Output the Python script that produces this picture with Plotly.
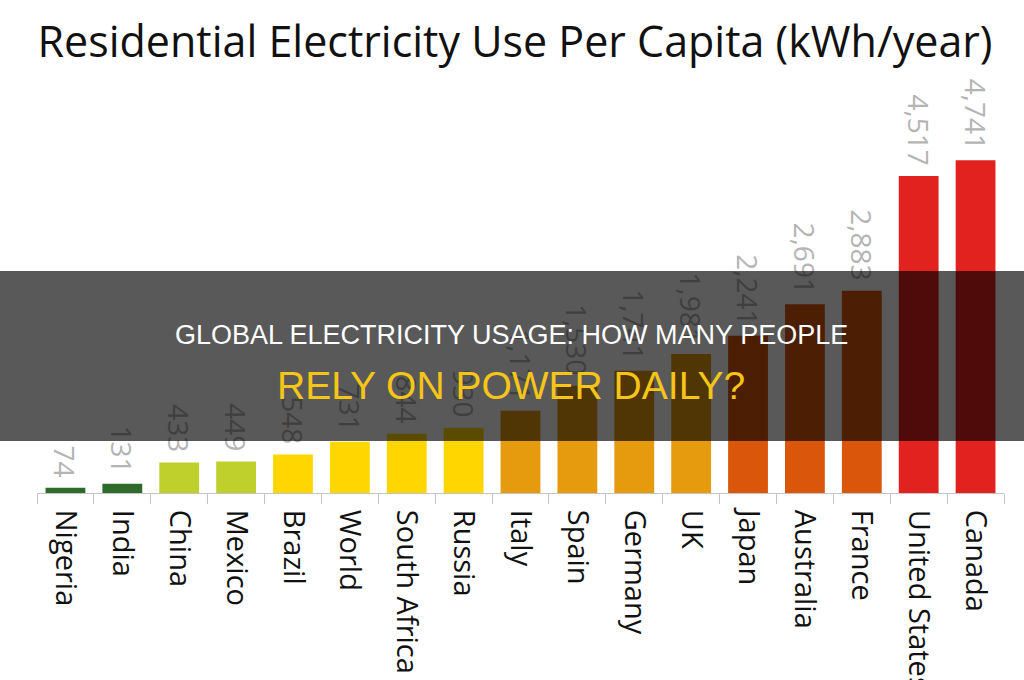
import plotly.graph_objects as go

countries = ["Nigeria", "India", "China", "Mexico", "Brazil", "World", "South Africa",
             "Russia", "Italy", "Spain", "Germany", "UK", "Japan", "Australia",
             "France", "United States", "Canada"]
values = [74, 131, 433, 449, 548, 731, 844, 930, 1171, 1530, 1741, 1981,
          2241, 2691, 2883, 4517, 4741]

c_green = "#2e6b2b"
c_lime = "#bfd02c"
c_yellow = "#ffd600"
c_orange = "#e69a0e"
c_dkorange = "#d9560b"
c_red = "#e1221f"
bar_colors = [c_green, c_green, c_lime, c_lime, c_yellow, c_yellow, c_yellow, c_yellow,
              c_orange, c_orange, c_orange, c_orange, c_dkorange, c_dkorange, c_dkorange,
              c_red, c_red]

labels = [f"{v:,}\u00a0" for v in values]

fig = go.Figure(go.Bar(
    x=countries, y=values, marker=dict(color=bar_colors, line=dict(width=0)),
    text=labels, textposition="outside", textangle=90, constraintext="none",
    cliponaxis=False,
    textfont=dict(family="Open Sans", size=28, color="#b4b4b4"),
    hoverinfo="skip",
))

L, R, T, B = 37, 20, 72, 187
W, H = 1024, 680
pw, ph = W - L - R, H - T - B

def px_x(x):
    return (x - L) / pw

def px_y(y):
    return (H - B - y) / ph

fig.update_layout(
    width=W, height=H,
    margin=dict(l=L, r=R, t=T, b=B, autoexpand=False),
    paper_bgcolor="white", plot_bgcolor="white",
    bargap=0.3, showlegend=False,
    title=dict(text="Residential Electricity Use Per Capita (kWh/year)",
               font=dict(family="Open Sans", size=43, color="#111111"),
               x=515 / W, xanchor="center", y=1 - 42 / H, yanchor="middle",
               xref="container", yref="container", automargin=False),
    xaxis=dict(showline=True, linecolor="#c4c4c4", linewidth=1,
               ticks="outside", tickson="boundaries", ticklen=10,
               tickcolor="#c4c4c4", tickangle=90, ticklabelstandoff=10,
               automargin=False,
               tickfont=dict(family="Open Sans", size=29, color="#111111"),
               showgrid=False),
    yaxis=dict(range=[0, 6000], visible=False, showgrid=False, automargin=False),
    shapes=[dict(type="rect", xref="paper", yref="paper",
                 x0=px_x(-5), x1=px_x(W + 5), y0=px_y(441), y1=px_y(271),
                 fillcolor="rgba(0,0,0,0.65)", line=dict(width=0), layer="above")],
    annotations=[
        dict(text="GLOBAL ELECTRICITY USAGE: HOW MANY PEOPLE", xref="paper", yref="paper",
             x=px_x(511.5), y=px_y(335), showarrow=False, xanchor="center", yanchor="middle",
             font=dict(family="Liberation Sans", size=27, color="#ffffff")),
        dict(text="RELY ON POWER DAILY?", xref="paper", yref="paper",
             x=px_x(511), y=px_y(385), showarrow=False, xanchor="center", yanchor="middle",
             font=dict(family="Liberation Sans", size=39, color="#f5c518")),
    ],
)

fig.write_html("out.html")
